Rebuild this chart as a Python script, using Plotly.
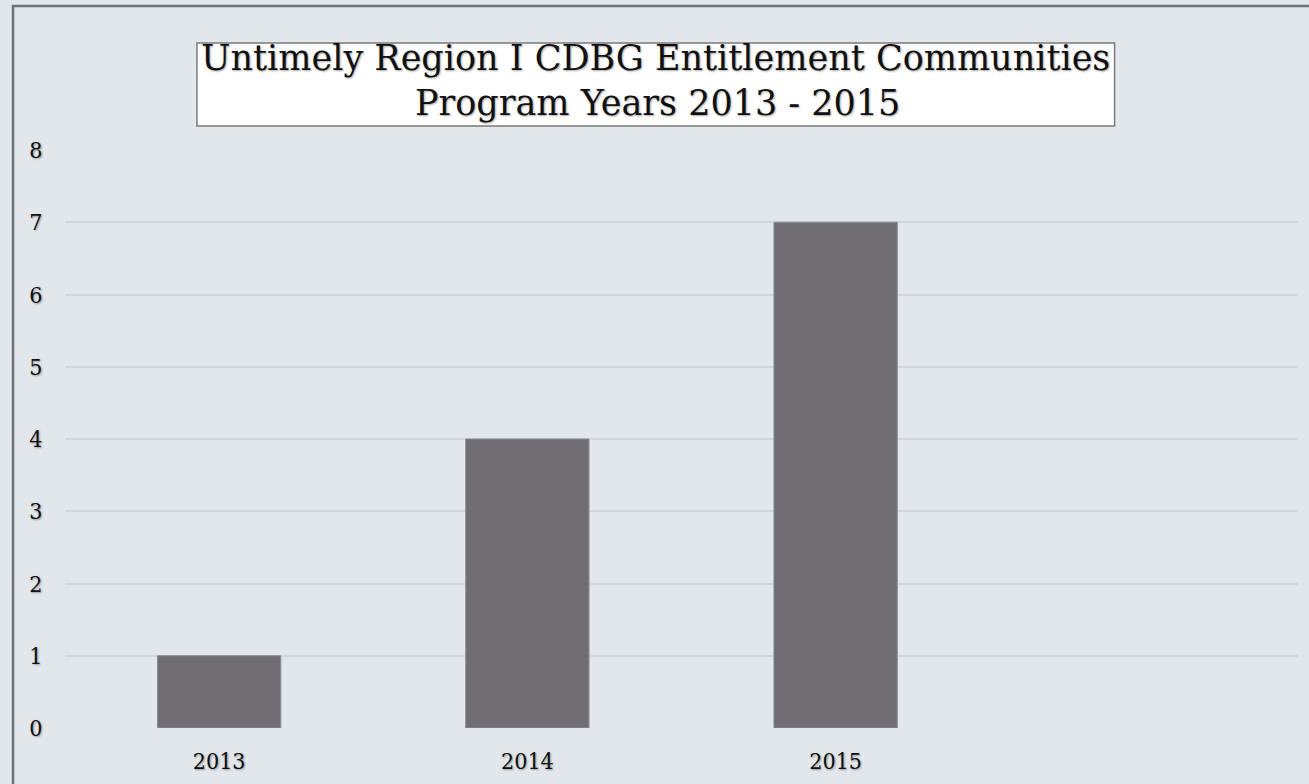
import plotly.graph_objects as go

categories = ["2013", "2014", "2015", ""]
values = [1, 4, 7, None]
y_ticks = [0, 1, 2, 3, 4, 5, 6, 7, 8]
title_line1 = "Untimely Region I CDBG Entitlement Communities"
title_line2 = "Program Years 2013 - 2015"

W, H = 1309, 784
L, R = 65, 1298.5
T, B = 150, 727.7

def px(x):
    return (x - L) / (R - L)

def py(y):
    return (B - y) / (B - T)

shadow = "1px 1px 2px rgba(0,0,0,0.35)"
serif = "DejaVu Serif Condensed, DejaVu Serif"
title_serif = "DejaVu Serif"

fig = go.Figure(go.Bar(
    x=categories, y=values,
    marker=dict(color="#706e73", line=dict(color="#8b8b90", width=1)),
    width=0.4,
))

fig.update_layout(
    width=W, height=H,
    margin=dict(l=L, r=W - R, t=T, b=H - B, pad=0),
    paper_bgcolor="#e2e7eb", plot_bgcolor="#e2e7eb",
    showlegend=False,
    font=dict(family=serif, color="#111111", size=23),
)
tickfont = dict(family=serif, size=23, color="#111111", shadow=shadow)
fig.update_xaxes(
    type="category", categoryorder="array", categoryarray=categories,
    range=[-0.5, 3.5], showgrid=False, zeroline=False, showline=False,
    tickfont=tickfont,
    ticks="outside", ticklen=12, tickcolor="rgba(0,0,0,0)",
)
fig.update_yaxes(
    range=[0, 8], tickvals=y_ticks, showgrid=True, gridcolor="#d3d7db", gridwidth=1.5,
    zeroline=False, showline=False,
    tickfont=tickfont,
    ticks="outside", ticklen=17, tickcolor="rgba(0,0,0,0)",
)

# outer border
fig.add_shape(type="rect", xref="paper", yref="paper",
              x0=px(13), x1=px(1315), y0=py(6), y1=py(795),
              line=dict(color="#727272", width=2.5), fillcolor="rgba(0,0,0,0)", layer="above")
# title box
fig.add_shape(type="rect", xref="paper", yref="paper",
              x0=px(197), x1=px(1115), y0=py(43), y1=py(126),
              line=dict(color="#7a7a7a", width=1.5), fillcolor="white", layer="above")
titlefont = dict(family=title_serif, size=35, color="#111111", shadow=shadow)
fig.add_annotation(text=title_line1, xref="paper", yref="paper",
                   x=px(656), y=py(58), showarrow=False, xanchor="center", yanchor="middle",
                   font=titlefont)
fig.add_annotation(text=title_line2, xref="paper", yref="paper",
                   x=px(658), y=py(103), showarrow=False, xanchor="center", yanchor="middle",
                   font=titlefont)

fig.write_html("out.html", config={"displayModeBar": False},
               post_script="document.body.style.margin='0';document.body.style.overflow='hidden';")
